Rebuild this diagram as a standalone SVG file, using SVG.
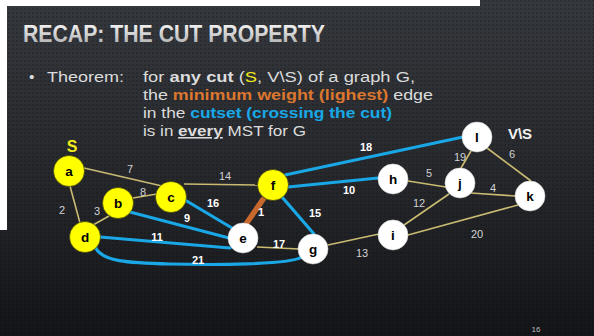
<svg xmlns="http://www.w3.org/2000/svg" width="594" height="336" viewBox="0 0 594 336">
<defs>
<linearGradient id="bg" x1="0" y1="0" x2="0" y2="1">
<stop offset="0" stop-color="#35383d"/>
<stop offset="0.55" stop-color="#25272b"/>
<stop offset="1" stop-color="#141518"/>
</linearGradient>
<linearGradient id="tg" x1="0" y1="0" x2="0" y2="1">
<stop offset="0" stop-color="#ffffff"/>
<stop offset="1" stop-color="#a9a9a9"/>
</linearGradient>
<pattern id="dots" width="4" height="4" patternUnits="userSpaceOnUse">
<rect x="0" y="0" width="2" height="2" fill="#000" opacity="0.15"/>
</pattern>
<style>
.body{font-family:"Liberation Sans",Arial,sans-serif;font-size:15.5px;fill:#dcdcdc}
.b{font-weight:bold}
.or{fill:#dc772f;font-weight:bold}
.bl{fill:#19a8e6;font-weight:bold}
.tan{stroke:#c9bb72;stroke-width:1.6;fill:none}
.cut{stroke:#19a7e6;stroke-width:3.2;fill:none;stroke-linecap:round}
.min{stroke:#c9682c;stroke-width:5.5;fill:none}
.wl{font-family:"Liberation Sans",Arial,sans-serif;font-size:11px;fill:#d2d2d2;text-anchor:middle}
.wb{font-family:"Liberation Sans",Arial,sans-serif;font-size:11px;fill:#ffffff;font-weight:bold;text-anchor:middle}
.ys{fill:#ffff00;stroke:#2a2a10;stroke-width:0.6}
.ws{fill:#ffffff;stroke:#d8d8d8;stroke-width:0.6}
.nl{font-family:"Liberation Sans",Arial,sans-serif;font-size:13.5px;font-weight:bold;fill:#000;text-anchor:middle}
</style>
</defs>
<rect x="0" y="0" width="594" height="336" fill="url(#bg)"/>
<rect x="0" y="0" width="594" height="336" fill="url(#dots)"/>
<rect x="0" y="0" width="480" height="6" fill="#ffffff"/>
<rect x="0" y="0" width="7" height="230" fill="#ffffff"/>

<text x="23" y="42" font-family="Liberation Sans,Arial,sans-serif" font-size="24" font-weight="bold" fill="url(#tg)" textLength="302" lengthAdjust="spacingAndGlyphs">RECAP: THE CUT PROPERTY</text>

<text class="body" x="29" y="82">•</text>
<text class="body" x="47" y="82" textLength="77" lengthAdjust="spacingAndGlyphs">Theorem:</text>
<text class="body" x="143" y="82" textLength="272" lengthAdjust="spacingAndGlyphs">for <tspan class="b">any cut</tspan> (<tspan fill="#f2ec1b">S</tspan>, V\S) of a graph G,</text>
<text class="body" x="143" y="100" textLength="290" lengthAdjust="spacingAndGlyphs">the <tspan class="or">minimum weight (lighest)</tspan> edge</text>
<text class="body" x="143" y="118" textLength="249" lengthAdjust="spacingAndGlyphs">in the <tspan class="bl">cutset (crossing the cut)</tspan></text>
<text class="body" x="143" y="136" textLength="163" lengthAdjust="spacingAndGlyphs">is in <tspan class="b" text-decoration="underline">every</tspan> MST for G</text>

<g id="connectors">
<line class="tan" x1="84" y1="168" x2="162" y2="186"/>
<line class="tan" x1="70" y1="186" x2="80" y2="223"/>
<line class="tan" x1="109" y1="216" x2="93" y2="225"/>
<line class="tan" x1="133" y1="198" x2="157" y2="194"/>
<line class="tan" x1="184" y1="184" x2="258" y2="185"/>
<line class="tan" x1="257" y1="247" x2="299" y2="249"/>
<line class="tan" x1="328" y1="245" x2="379" y2="234"/>
<line class="tan" x1="408" y1="181" x2="446" y2="187"/>
<line class="tan" x1="404" y1="225" x2="449" y2="194"/>
<line class="tan" x1="408" y1="235" x2="518" y2="205"/>
<line class="tan" x1="471" y1="193" x2="515" y2="196"/>
<line class="tan" x1="471" y1="151" x2="461" y2="168"/>
<line class="tan" x1="487" y1="148" x2="531" y2="181"/>
<line class="cut" x1="185" y1="200" x2="232" y2="228"/>
<line class="cut" x1="130" y1="212" x2="229" y2="238"/>
<line class="cut" x1="100" y1="237" x2="230" y2="248"/>
<path class="cut" d="M95,246 C100,262 130,263 170,264 S290,265 302,257"/>
<line class="cut" x1="282" y1="197" x2="314" y2="234"/>
<line class="cut" x1="288" y1="187" x2="378" y2="178"/>
<line class="cut" x1="285" y1="175" x2="463" y2="137"/>
<line class="min" x1="264" y1="198" x2="246" y2="224"/>

<text class="wl" x="130" y="173">7</text>
<text class="wl" x="62" y="214">2</text>
<text class="wl" x="97" y="215">3</text>
<text class="wl" x="143" y="196">8</text>
<text class="wl" x="225" y="180">14</text>
<text class="wl" x="362" y="257">13</text>
<text class="wl" x="429" y="177">5</text>
<text class="wl" x="419" y="207">12</text>
<text class="wl" x="460" y="161">19</text>
<text class="wl" x="512" y="158">6</text>
<text class="wl" x="493" y="192">4</text>
<text class="wl" x="477" y="238">20</text>
<text class="wb" x="213" y="207">16</text>
<text class="wb" x="187" y="222">9</text>
<text class="wb" x="157" y="241">11</text>
<text class="wb" x="198" y="264">21</text>
<text class="wb" x="279" y="248">17</text>
<text class="wb" x="261" y="216">1</text>
<text class="wb" x="315" y="217">15</text>
<text class="wb" x="349" y="194">10</text>
<text class="wb" x="366" y="151">18</text>
</g>

<text x="72" y="152" font-family="Liberation Sans,Arial,sans-serif" font-size="16" font-weight="bold" fill="#f2ec1b" text-anchor="middle">S</text>
<text x="520" y="139" font-family="Liberation Sans,Arial,sans-serif" font-size="15" font-weight="bold" fill="#f2f2f2" text-anchor="middle">V\S</text>

<g id="a"><circle class="ys" cx="69" cy="171" r="15.5"/><text class="nl" x="69" y="175.5">a</text></g>
<g id="b"><circle class="ys" cx="118" cy="203" r="15.5"/><text class="nl" x="118" y="207.5">b</text></g>
<g id="c"><circle class="ys" cx="171" cy="197" r="15.5"/><text class="nl" x="171" y="201.5">c</text></g>
<g id="d"><circle class="ys" cx="85" cy="237" r="15.5"/><text class="nl" x="85" y="241.5">d</text></g>
<g id="f"><circle class="ys" cx="273" cy="185" r="15.5"/><text class="nl" x="273" y="189.5">f</text></g>
<g id="e"><circle class="ws" cx="243" cy="238" r="15"/><text class="nl" x="243" y="242.5">e</text></g>
<g id="g"><circle class="ws" cx="313" cy="249" r="15"/><text class="nl" x="313" y="253.5">g</text></g>
<g id="h"><circle class="ws" cx="393" cy="179" r="15"/><text class="nl" x="393" y="183.5">h</text></g>
<g id="i"><circle class="ws" cx="393" cy="235" r="15"/><text class="nl" x="393" y="239.5">i</text></g>
<g id="j"><circle class="ws" cx="460" cy="183" r="15"/><text class="nl" x="460" y="187.5">j</text></g>
<g id="k"><circle class="ws" cx="530" cy="196" r="15"/><text class="nl" x="530" y="200.5">k</text></g>
<g id="l"><circle class="ws" cx="477" cy="137" r="15"/><text class="nl" x="477" y="141.5">l</text></g>

<text x="536" y="332" font-family="Liberation Sans,Arial,sans-serif" font-size="8" fill="#bdbdbd" text-anchor="middle">16</text>
</svg>
